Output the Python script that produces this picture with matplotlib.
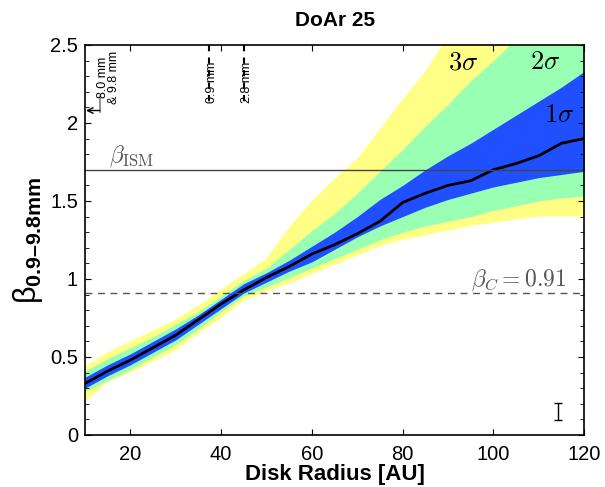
import numpy as np
import matplotlib
matplotlib.use('Agg')
import matplotlib.pyplot as plt
from matplotlib.ticker import FuncFormatter, MultipleLocator

plt.rcParams['font.family'] = ['Liberation Sans', 'DejaVu Sans']
plt.rcParams['mathtext.fontset'] = 'cm'
plt.rcParams['mathtext.rm'] = 'Liberation Sans'
plt.rcParams['mathtext.it'] = 'Liberation Sans'
plt.rcParams['mathtext.bf'] = 'Liberation Sans:bold'

# 数据
radius = [10, 15, 20, 25, 30, 35, 40, 45, 50, 55, 60, 65, 70, 75, 80, 85, 90, 95, 100, 105, 110, 115, 120]
median = [0.33, 0.41, 0.48, 0.56, 0.64, 0.74, 0.84, 0.93, 1.01, 1.08, 1.16, 1.22, 1.29, 1.37, 1.49, 1.55,
          1.60, 1.63, 1.70, 1.74, 1.79, 1.87, 1.90]
sig1_hi = [0.37, 0.45, 0.52, 0.60, 0.68, 0.77, 0.87, 0.97, 1.04, 1.12, 1.21, 1.30, 1.40, 1.51, 1.60, 1.70,
           1.79, 1.87, 1.96, 2.05, 2.14, 2.23, 2.33]
sig1_lo = [0.30, 0.38, 0.45, 0.53, 0.61, 0.71, 0.81, 0.91, 0.98, 1.05, 1.11, 1.19, 1.27, 1.34, 1.40, 1.46,
           1.51, 1.55, 1.59, 1.62, 1.65, 1.67, 1.69]
sig2_hi = [0.41, 0.49, 0.56, 0.63, 0.71, 0.79, 0.89, 0.99, 1.07, 1.19, 1.31, 1.42, 1.55, 1.69, 1.83, 1.98,
           2.12, 2.27, 2.40, 2.54, 2.68, 2.82, 2.96]
sig2_lo = [0.28, 0.35, 0.42, 0.50, 0.58, 0.68, 0.79, 0.89, 0.95, 1.01, 1.07, 1.13, 1.19, 1.25, 1.30, 1.34,
           1.37, 1.40, 1.44, 1.47, 1.50, 1.52, 1.53]
sig3_hi = [0.44, 0.53, 0.60, 0.67, 0.74, 0.83, 0.93, 1.03, 1.13, 1.33, 1.50, 1.64, 1.77, 1.96, 2.15, 2.33,
           2.56, 2.78, 3.00, 3.20, 3.40, 3.60, 3.80]
sig3_lo = [0.21, 0.34, 0.40, 0.47, 0.54, 0.65, 0.75, 0.86, 0.92, 0.97, 1.03, 1.09, 1.15, 1.21, 1.25, 1.28,
           1.31, 1.34, 1.36, 1.38, 1.40, 1.40, 1.40]

beta_ism = 1.7
beta_c = 0.91
wave_marks = [(37.4, '0.9 mm'), (45.1, '2.8 mm')]
err_x, err_y, err_half = 114.2, 0.15, 0.055

fig = plt.figure(figsize=(6.05, 4.87), dpi=100)
ax = fig.add_axes([0.1405, 0.1068, 0.825, 0.8008])

ax.fill_between(radius, sig3_lo, sig3_hi, color='#FFFF85', lw=0)
ax.fill_between(radius, sig2_lo, sig2_hi, color='#99FFB3', lw=0)
ax.fill_between(radius, sig1_lo, sig1_hi, color='#1F4FFF', lw=0)
ax.plot(radius, median, color='k', lw=2)

ax.axhline(beta_ism, color='#444444', lw=1)
ax.axhline(beta_c, color='#555555', lw=1, ls=(0, (5, 4)))

ax.text(15.3, 1.79, r'$\beta_{\rm ISM}$', fontsize=17, color='#555555',
        math_fontfamily='cm', va='center')
ax.text(116, 0.99, r'$\beta_C = 0.91$', fontsize=17, color='#555555',
        math_fontfamily='cm', va='center', ha='right')

ax.text(93.4, 2.39, r'$3\sigma$', fontsize=19, ha='center', va='center', math_fontfamily='cm')
ax.text(111.5, 2.39, r'$2\sigma$', fontsize=19, ha='center', va='center', math_fontfamily='cm')
ax.text(114.4, 2.05, r'$1\sigma$', fontsize=19, ha='center', va='center', math_fontfamily='cm')

# 上方波长标记
for xm, lab in wave_marks:
    ax.plot([xm, xm], [2.5, 2.13], color='k', lw=1.5, ls=(0, (3, 3)))
    ax.text(xm + 0.5, 2.13, lab, rotation=90, fontsize=9, ha='center', va='bottom')
ax.plot([13.3, 13.3], [2.07, 2.17], color='gray', lw=1.2)
ax.annotate('', xy=(10.2, 2.08), xytext=(13.3, 2.08),
            arrowprops=dict(arrowstyle='->', color='k', lw=1, shrinkA=0, shrinkB=0))
ax.text(15.2, 2.12, '8.0 mm\n& 9.8 mm', rotation=90, fontsize=9, ha='center', va='bottom',
        linespacing=0.85)

ax.errorbar([err_x], [err_y], yerr=[err_half], color='k', lw=1, capsize=3, capthick=1)

ax.set_xlim(10, 120)
ax.set_ylim(0, 2.5)
ax.set_xticks([20, 40, 60, 80, 100, 120])
ax.yaxis.set_major_locator(MultipleLocator(0.5))
ax.yaxis.set_minor_locator(MultipleLocator(0.1))
ax.yaxis.set_major_formatter(FuncFormatter(lambda v, p: '%g' % v))
ax.tick_params(which='both', direction='in', top=True, right=True, labelsize=14.5)
ax.tick_params(which='major', length=4)
ax.tick_params(which='minor', length=3)
ax.tick_params(axis='x', pad=7)
ax.tick_params(axis='y', pad=5)
for s in ax.spines.values():
    s.set_linewidth(1.2)

ax.set_xlabel('Disk Radius [AU]', fontsize=16, fontweight='bold', labelpad=0)
ax.set_ylabel('$\\beta_{\\mathbf{0.9\u20139.8mm}}$', fontsize=22, math_fontfamily='custom', labelpad=4)
ax.set_title('DoAr 25', fontsize=15, fontweight='bold', pad=14)

fig.savefig('out.png', dpi=100)
